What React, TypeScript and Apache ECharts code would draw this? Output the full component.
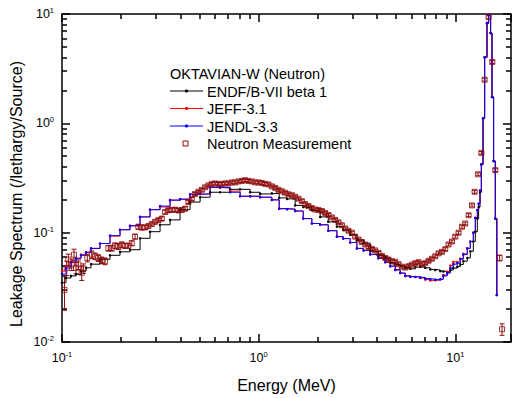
import React, { useEffect, useRef } from 'react';
import * as echarts from 'echarts';

// ---- Calculated spectra (histogram, lower bin edges in MeV; last entry closes the last bin) ----
const energyMeV = [
  0.1, 0.1048, 0.1111, 0.1178, 0.1249, 0.1325, 0.1405, 0.1561, 0.1755, 0.1973,
  0.2219, 0.2494, 0.2804, 0.3153, 0.3545, 0.3986, 0.4481, 0.5038, 0.5665, 0.6369,
  0.7161, 0.8051, 0.9051, 1.018, 1.167, 1.272, 1.396, 1.534, 1.685, 1.865,
  2.056, 2.259, 2.5, 2.692, 2.922, 3.16, 3.415, 3.694, 4.056, 4.404,
  4.669, 4.951, 5.249, 5.566, 5.902, 6.258, 6.636, 7.036, 7.46, 7.91,
  8.388, 8.688, 9.106, 9.432, 9.768, 10.24, 10.6, 10.98, 11.51, 11.92,
  12.35, 12.64, 12.94, 13.14, 13.36, 13.57, 13.84, 14.1, 14.5, 14.77,
  15.12, 15.37, 15.66, 15.98, 16.26,
];

const endfB7beta1 = [
  0.0349, 0.0385, 0.0402, 0.0416, 0.0445, 0.0477, 0.0515, 0.0571, 0.0621, 0.0668,
  0.0698, 0.0888, 0.1021, 0.1181, 0.1309, 0.1624, 0.1904, 0.211, 0.2342, 0.2342,
  0.2491, 0.2491, 0.2342, 0.226, 0.2293, 0.208, 0.2037, 0.1776, 0.1715, 0.1602,
  0.1394, 0.1256, 0.1133, 0.1057, 0.0953, 0.0859, 0.0801, 0.0675, 0.0617, 0.0587,
  0.0529, 0.0512, 0.0494, 0.0477, 0.0467, 0.0484, 0.0487, 0.0477, 0.0461, 0.0455,
  0.0445, 0.0441, 0.0436, 0.0455, 0.0474, 0.0489, 0.0512, 0.0548, 0.0587, 0.0675,
  0.083, 0.1021, 0.1345, 0.1715, 0.2342, 0.421, 1.109, 4.015, 8.25, 9.79,
  6.7, 1.74, 0.452, 0.1345, 0.0269,
];

const jeff31 = [
  0.0445, 0.049, 0.0537, 0.0583, 0.063, 0.0661, 0.0718, 0.0796, 0.093, 0.1064,
  0.1156, 0.1394, 0.1623, 0.172, 0.1984, 0.2024, 0.2247, 0.2262, 0.2597, 0.256,
  0.24, 0.2154, 0.2154, 0.211, 0.1995, 0.1657, 0.164, 0.1578, 0.1345, 0.1213,
  0.1181, 0.1042, 0.092, 0.0883, 0.0813, 0.0718, 0.0688, 0.0633, 0.0583, 0.0537,
  0.0494, 0.046, 0.0427, 0.0402, 0.0396, 0.0393, 0.0385, 0.0372, 0.0366, 0.0368,
  0.0375, 0.041, 0.044, 0.05, 0.054, 0.054, 0.058, 0.064, 0.0718, 0.083,
  0.1, 0.1365, 0.1613, 0.1837, 0.2425, 0.421, 1.109, 4.015, 8.25, 9.79,
  6.7, 1.74, 0.452, 0.1345, 0.0269,
];

const jendl33 = [
  0.0418, 0.0474, 0.0537, 0.0583, 0.0621, 0.0661, 0.0718, 0.0796, 0.094, 0.1064,
  0.1156, 0.1394, 0.1623, 0.1751, 0.1984, 0.2024, 0.2247, 0.2262, 0.2597, 0.2597,
  0.2342, 0.2154, 0.2154, 0.211, 0.1995, 0.1657, 0.164, 0.1578, 0.1345, 0.1213,
  0.1181, 0.1042, 0.092, 0.0883, 0.0813, 0.0718, 0.0688, 0.0633, 0.0583, 0.0537,
  0.0494, 0.0455, 0.0427, 0.0402, 0.0396, 0.0393, 0.0388, 0.038, 0.0375, 0.037,
  0.0375, 0.0402, 0.0427, 0.0474, 0.0515, 0.0526, 0.0571, 0.063, 0.0718, 0.083,
  0.1, 0.1365, 0.1613, 0.1837, 0.2425, 0.421, 1.109, 4.015, 8.25, 9.79,
  6.7, 1.74, 0.452, 0.1345, 0.0269,
];

// ---- Measurement ----
const measEnergyMeV = [
  0.103, 0.1057, 0.1077, 0.1121, 0.1151, 0.1178, 0.1211, 0.126, 0.1284, 0.1345,
  0.1416, 0.1472, 0.153, 0.1592, 0.1655, 0.172, 0.179, 0.1861, 0.1934, 0.2013,
  0.2092, 0.2175, 0.2263, 0.2352, 0.2445, 0.2544, 0.2645, 0.2749, 0.2861, 0.2974,
  0.3091, 0.3217, 0.3344, 0.3475, 0.3617, 0.3759, 0.3907, 0.4066, 0.4227, 0.4392,
  0.4571, 0.4751, 0.4938, 0.5139, 0.5341, 0.5552, 0.5778, 0.6005, 0.6241, 0.6495,
  0.6751, 0.7017, 0.7303, 0.759, 0.7889, 0.821, 0.8533, 0.887, 0.9235, 0.9598,
  0.9977, 1.038, 1.079, 1.122, 1.167, 1.213, 1.261, 1.313, 1.364, 1.418,
  1.476, 1.534, 1.594, 1.659, 1.725, 1.792, 1.865, 1.939, 2.015, 2.097,
  2.18, 2.266, 2.358, 2.451, 2.547, 2.651, 2.755, 2.864, 2.98, 3.098,
  3.22, 3.351, 3.483, 3.621, 3.768, 3.916, 4.071, 4.236, 4.404, 4.577,
  4.763, 4.951, 5.146, 5.355, 5.566, 5.785, 6.02, 6.258, 6.505, 6.769,
  7.036, 7.313, 7.61, 7.91, 8.222, 8.556, 8.893, 9.246, 9.621, 10.0,
  10.39, 10.82, 11.24, 11.69, 12.16, 12.54, 13.05, 13.57, 14.1, 14.77,
  15.43, 15.98, 16.81, 17.29,
];

const measValue = [
  0.03, 0.0477, 0.0568, 0.0512, 0.063, 0.0477, 0.0512, 0.043, 0.0471, 0.0587,
  0.063, 0.0608, 0.0587, 0.0559, 0.0548, 0.0722, 0.0722, 0.0759, 0.0748, 0.0775,
  0.0759, 0.0759, 0.0801, 0.092, 0.1133, 0.1116, 0.1116, 0.1149, 0.1198, 0.1256,
  0.1302, 0.1345, 0.1546, 0.1602, 0.1613, 0.1624, 0.1595, 0.1613, 0.1657, 0.1904,
  0.2037, 0.226, 0.2366, 0.2466, 0.2597, 0.2707, 0.2793, 0.2822, 0.2793, 0.2793,
  0.2822, 0.2822, 0.2882, 0.2882, 0.2942, 0.2972, 0.3022, 0.2972, 0.2942, 0.2882,
  0.2882, 0.2851, 0.2793, 0.2763, 0.2651, 0.257, 0.2466, 0.2391, 0.2318, 0.2247,
  0.22, 0.2133, 0.2046, 0.1943, 0.1826, 0.1751, 0.1679, 0.1628, 0.1613, 0.1578,
  0.1514, 0.1453, 0.1379, 0.1309, 0.1243, 0.1168, 0.1093, 0.1042, 0.1, 0.092,
  0.0865, 0.0821, 0.078, 0.074, 0.071, 0.0688, 0.0654, 0.0614, 0.0587, 0.0568,
  0.0548, 0.0542, 0.0515, 0.0489, 0.0479, 0.0494, 0.051, 0.0526, 0.0537, 0.0515,
  0.0526, 0.0553, 0.0577, 0.0608, 0.0647, 0.0668, 0.0707, 0.078, 0.083, 0.092,
  0.1, 0.1133, 0.1213, 0.1444, 0.1776, 0.2366, 0.3421, 0.537, 2.507, 9.34,
  3.64, 0.373, 0.0587, 0.01309,
];

// relative uncertainty in percent
const measErrPct = [
  35, 15, 12, 12, 12, 12, 10, 15, 10, 8,
  8, 7, 7, 7, 7, 6, 6, 6, 6, 6,
  5, 5, 5, 5, 5, 5, 4, 4, 4, 4,
  4, 4, 4, 4, 4, 4, 4, 4, 4, 3,
  3, 3, 3, 3, 3, 3, 3, 3, 3, 3,
  3, 3, 3, 3, 3, 3, 3, 3, 3, 3,
  3, 3, 3, 3, 3, 3, 3, 3, 3, 3,
  3, 3, 3, 3, 3, 3, 3, 3, 3, 3,
  3, 3, 3, 3, 3, 3, 3, 3, 3, 3,
  3, 3, 3, 3, 3, 3, 3, 3, 3, 3,
  3, 3, 3, 3, 3, 3, 3, 3, 3, 3,
  3, 3, 3, 3, 3, 3, 3, 3, 3, 3,
  3, 3, 3, 3, 3, 3, 3, 3, 3, 3,
  3, 3, 6, 12,
];

const legendTitle = 'OKTAVIAN-W (Neutron)';
const seriesNames = ['ENDF/B-VII beta 1', 'JEFF-3.1', 'JENDL-3.3', 'Neutron Measurement'];
const seriesColors = ['#000000', '#ff0000', '#0000ff', '#8e0a0a'];
const xAxisTitle = 'Energy (MeV)';
const yAxisTitle = 'Leakage Spectrum (/lethargy/Source)';

const FONT = '"Liberation Sans", Arial, Helvetica, sans-serif';
const X_MIN = 0.1, X_MAX = 19.2, Y_MIN = 0.01, Y_MAX = 10;

export default function App() {
  const ref = useRef<HTMLDivElement>(null);

  useEffect(() => {
    if (!ref.current) return;
    const chart = echarts.init(ref.current, null, { renderer: 'svg' });

    const fmt = (v: number) => {
      const p = Math.log10(v);
      const r = Math.round(p);
      if (Math.abs(p - r) > 1e-6) return '';
      return `{b|10}{s|${r}}`;
    };
    const rich = {
      b: { fontSize: 12.5, fontFamily: FONT, color: '#000', lineHeight: 15 },
      s: { fontSize: 7.5, fontFamily: FONT, color: '#000', lineHeight: 8, verticalAlign: 'top' },
    };
    const mkX = (position: string, extra: any) => ({
      type: 'log', logBase: 10, min: X_MIN, max: X_MAX, position,
      axisLine: { show: true, onZero: false, lineStyle: { color: '#000', width: 1.5 } },
      axisTick: { show: true, inside: true, length: 8, lineStyle: { color: '#000', width: 1.5 } },
      minorTick: { show: true, splitNumber: 9, length: 5, lineStyle: { color: '#000', width: 1.5 } },
      splitLine: { show: false }, minorSplitLine: { show: false },
      ...extra,
    });
    const mkY = (position: string, extra: any) => ({
      type: 'log', logBase: 10, min: Y_MIN, max: Y_MAX, position,
      axisLine: { show: true, onZero: false, lineStyle: { color: '#000', width: 1.5 } },
      axisTick: { show: true, inside: true, length: 8, lineStyle: { color: '#000', width: 1.5 } },
      minorTick: { show: true, splitNumber: 9, length: 5, lineStyle: { color: '#000', width: 1.5 } },
      splitLine: { show: false }, minorSplitLine: { show: false },
      ...extra,
    });

    const lineSeries = (name: string, vals: number[], color: string) => ({
      name, type: 'line', step: 'end',
      data: energyMeV.map((e, i) => [e, vals[i]]),
      symbol: 'circle', symbolSize: 2.5, showSymbol: true, showAllSymbol: true,
      itemStyle: { color },
      lineStyle: { color, width: 1 },
      emphasis: { disabled: true },
      clip: true,
    });

    const errData = measEnergyMeV.map((e, i) => {
      const v = measValue[i];
      const d = (v * measErrPct[i]) / 100;
      return [e, v - d, v + d];
    });

    const mc = seriesColors[3];
    const rows = [91, 108.5, 126, 143.5];

    const graphics: any[] = [
      { type: 'text', x: 170, y: 73.5, style: { text: legendTitle, fill: '#000', fontSize: 14.5, fontFamily: FONT, verticalAlign: 'middle' } },
      {
        type: 'text', x: 16, y: 194, rotation: Math.PI / 2,
        style: { text: yAxisTitle, fill: '#000', fontSize: 16, fontFamily: FONT, align: 'center', verticalAlign: 'middle' },
      },
    ];
    for (let i = 0; i < 3; i++) {
      graphics.push(
        { type: 'line', shape: { x1: 170, y1: rows[i], x2: 203, y2: rows[i] }, style: { stroke: seriesColors[i], lineWidth: 1 } },
        { type: 'circle', shape: { cx: 186.5, cy: rows[i], r: 1.6 }, style: { fill: seriesColors[i] } },
        { type: 'text', x: 207, y: rows[i] + 0.5, style: { text: seriesNames[i], fill: '#000', fontSize: 14.5, fontFamily: FONT, verticalAlign: 'middle' } },
      );
    }
    graphics.push(
      { type: 'rect', shape: { x: 183, y: rows[3] - 2.5, width: 5, height: 5 }, style: { fill: 'none', stroke: mc, lineWidth: 1 } },
      { type: 'text', x: 207, y: rows[3] + 0.5, style: { text: seriesNames[3], fill: '#000', fontSize: 14.5, fontFamily: FONT, verticalAlign: 'middle' } },
    );

    const option: any = {
      animation: false,
      backgroundColor: '#ffffff',
      grid: { left: 62, top: 14, width: 449, height: 333, containLabel: false },
      xAxis: [
        mkX('bottom', {
          name: xAxisTitle, nameLocation: 'middle', nameGap: 35,
          nameTextStyle: { fontSize: 16, fontFamily: FONT, color: '#000' },
          axisLabel: { formatter: fmt, margin: 8, rich, showMinLabel: true, showMaxLabel: false },
        }),
        mkX('top', { axisLabel: { show: false } }),
      ],
      yAxis: [
        mkY('left', { axisLabel: { formatter: fmt, margin: 8, rich, showMinLabel: true, showMaxLabel: true } }),
        mkY('right', { axisLabel: { show: false } }),
      ],
      graphic: graphics,
      series: [
        lineSeries(seriesNames[0], endfB7beta1, seriesColors[0]),
        lineSeries(seriesNames[1], jeff31, seriesColors[1]),
        lineSeries(seriesNames[2], jendl33, seriesColors[2]),
        {
          name: 'errors', type: 'custom',
          data: errData,
          encode: { x: 0, y: [1, 2] },
          renderItem: (params: any, api: any) => {
            const x = api.value(0);
            const p1 = api.coord([x, api.value(1)]);
            const p2 = api.coord([x, api.value(2)]);
            const style = { stroke: mc, lineWidth: 1, fill: 'none' };
            return {
              type: 'group',
              children: [
                { type: 'line', shape: { x1: p1[0], y1: p1[1], x2: p2[0], y2: p2[1] }, style },
                { type: 'line', shape: { x1: p1[0] - 2.5, y1: p1[1], x2: p1[0] + 2.5, y2: p1[1] }, style },
                { type: 'line', shape: { x1: p2[0] - 2.5, y1: p2[1], x2: p2[0] + 2.5, y2: p2[1] }, style },
              ],
            };
          },
          silent: true,
          z: 3,
        },
        {
          name: seriesNames[3], type: 'scatter',
          data: measEnergyMeV.map((e, i) => [e, measValue[i]]),
          symbol: 'rect', symbolSize: 5,
          itemStyle: { color: 'rgba(0,0,0,0)', borderColor: mc, borderWidth: 1 },
          emphasis: { disabled: true },
          z: 4,
        },
      ],
    };

    chart.setOption(option);
    return () => chart.dispose();
  }, []);

  return (
    <div
      ref={ref}
      style={{ position: 'fixed', left: 0, top: 0, width: 512, height: 398, background: '#fff' }}
    />
  );
}
